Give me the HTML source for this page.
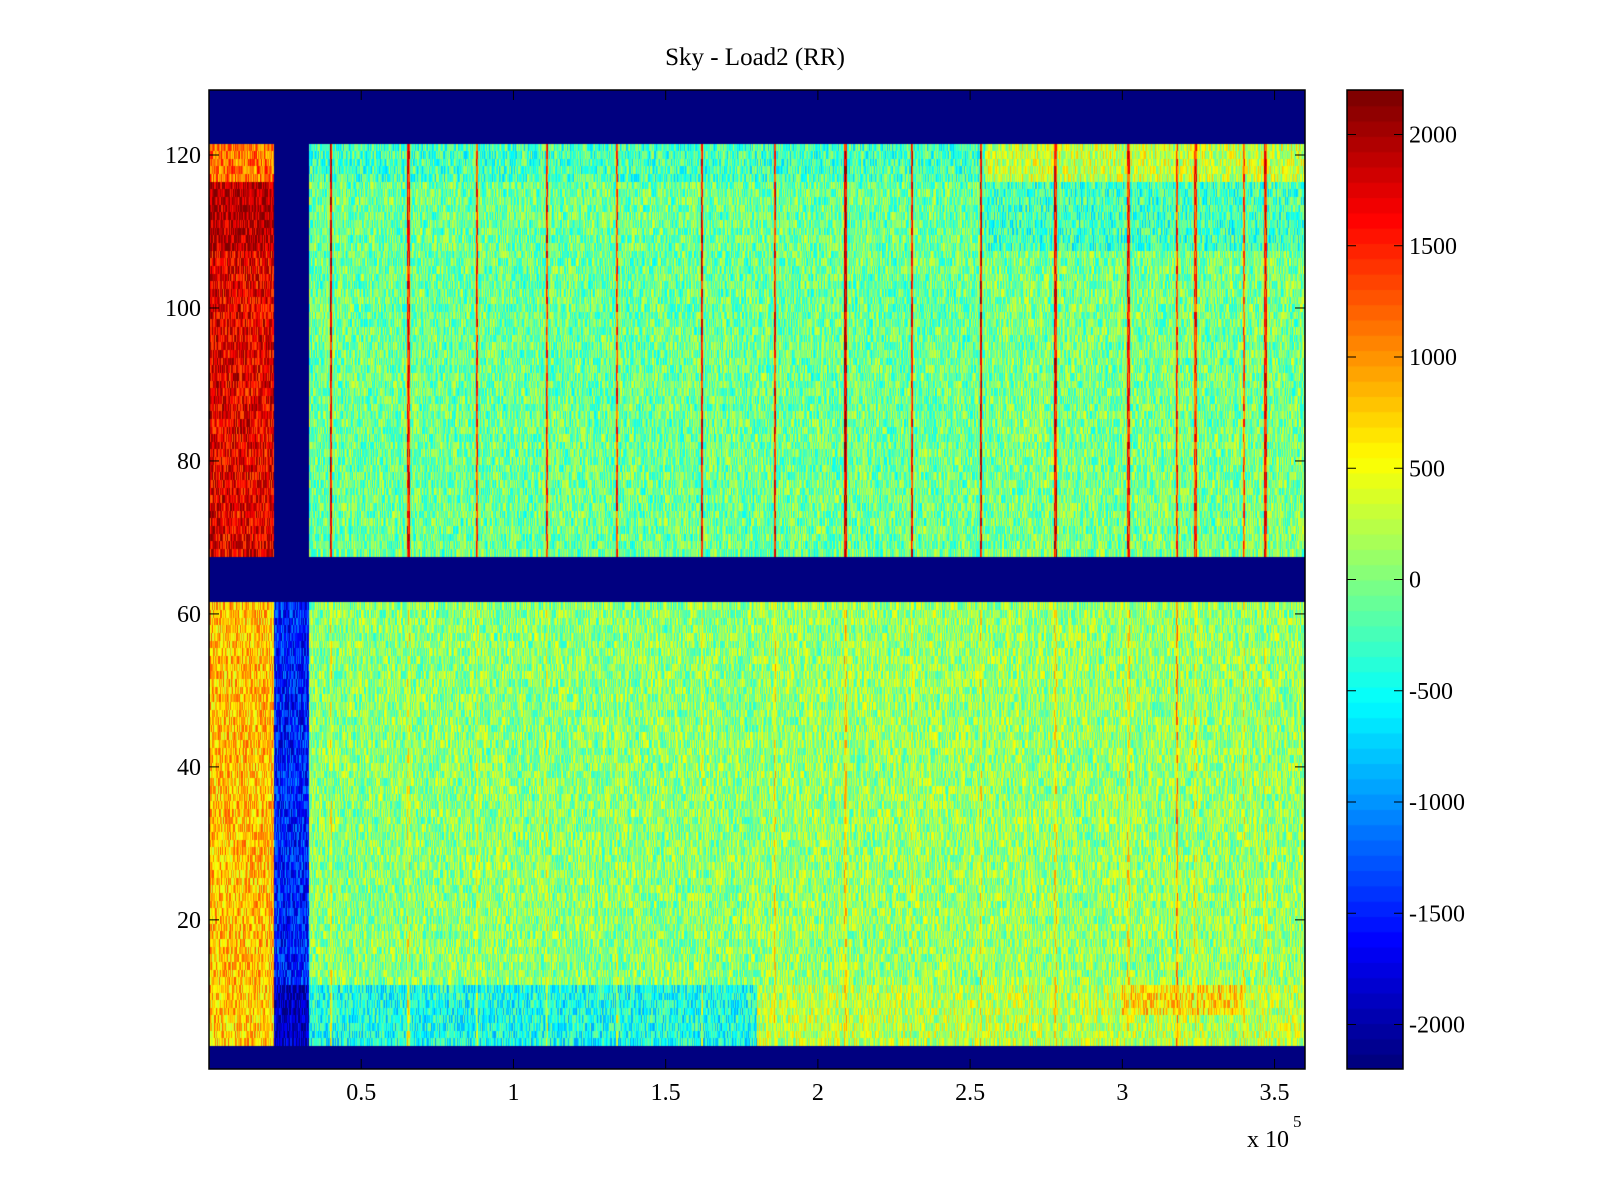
<!DOCTYPE html>
<html><head><meta charset="utf-8"><style>
body{margin:0;background:#fff;width:1600px;height:1200px;position:relative;font-family:"Liberation Serif",serif;overflow:hidden}
.t{position:absolute;font-size:25px;color:#000;white-space:nowrap}
</style></head><body>
<div class="t" style="left:0;width:1510px;text-align:center;top:44px">Sky - Load2 (RR)</div>
<canvas id="hm" width="1096" height="979" style="position:absolute;left:209px;top:90px"></canvas>
<canvas id="cb" width="56" height="979" style="position:absolute;left:1347px;top:90px"></canvas>
<svg id="ax" width="1600" height="1200" style="position:absolute;left:0;top:0"></svg>
<script>
// Row bands (row index 1..128)
const bandStart=[1,4,12,62,68,108,117,122];
const bandEnd=[3,11,61,67,107,116,121,128];
const bandLeft=[-2200,750,800,-2200,1700,1950,1150,-2200];
const bandGap=[-2200,-1950,-1500,-2200,-2200,-2200,-2200,-2200];
const bandMid=[-2200,-450,50,-2200,-80,-80,-250,-2200];
const bandRight=[-2200,250,100,-2200,-30,-280,300,-2200];
const bandSplit=[3.6,1.8,1.8,3.6,2.55,2.55,2.55,3.6];
const hotStart=3.0,hotEnd=3.4,hotVal=650; // bottom-right warm patch rows 8-11
const spikeX=[0.40,0.655,0.88,1.11,1.34,1.62,1.86,2.09,2.31,2.535,2.78,3.02,3.18,3.24,3.40,3.47];
const spikeUpper=[1700,1500,1400,1400,1300,1600,1500,1800,1500,1700,1600,1500,1300,1400,1200,1500];
const spikeLower=[400,400,300,300,250,250,500,600,300,500,500,500,900,400,400,300];
const yTicks=[20,40,60,80,100,120];
const xTicks=[0.5,1,1.5,2,2.5,3,3.5];
const cTicks=[2000,1500,1000,500,0,-500,-1000,-1500,-2000];
const X0=209,X1=1305,Y0=90,Y1=1069,xmin=0,xmax=3.6,ymin=0.5,ymax=128.5,cmin=-2200,cmax=2200;
const CX0=1347,CX1=1403;
const xs=v=>X0+(v-xmin)/(xmax-xmin)*(X1-X0);
const ys=v=>Y1-(v-ymin)/(ymax-ymin)*(Y1-Y0);
function jet(t){t=Math.max(0,Math.min(1,t));t=Math.min(63,Math.floor(t*64))/63;
 const f=x=>Math.max(0,Math.min(1,x));
 return [f(1.5-Math.abs(4*t-3)),f(1.5-Math.abs(4*t-2)),f(1.5-Math.abs(4*t-1))].map(v=>Math.round(v*255));}
function hash(a,b){let h=(a*374761393+b*668265263)|0;h=(h^(h>>>13))*1274126177|0;return ((h^(h>>>16))>>>0)/4294967295;}
const W=X1-X0,H=Y1-Y0;
const hm=document.getElementById('hm').getContext('2d');
const img=hm.createImageData(W,H);
for(let r=1;r<=128;r++){
 let b=bandStart.findIndex((s,i)=>r>=s&&r<=bandEnd[i]);
 const yTop=Math.round(ys(r+0.5)-Y0),yBot=Math.round(ys(r-0.5)-Y0);
 const upper=r>=62;
 for(let px=0;px<W;px++){
  const x=xmin+(px+0.5)/W*(xmax-xmin);
  let v,blank=bandLeft[b]===-2200&&bandGap[b]===-2200;
  if(x<0.215)v=bandLeft[b];else if(x<0.33)v=bandGap[b];else if(x<bandSplit[b])v=bandMid[b];else v=bandRight[b];
  if(!blank&&x>=0.33){
   if(r>=8&&r<=11&&x>hotStart&&x<hotEnd)v=hotVal;
   for(let k=0;k<spikeX.length;k++)if(Math.abs(x-spikeX[k])<0.004)v=upper?spikeUpper[k]:spikeLower[k];
  }
  if(!blank&&!(x>=0.215&&x<0.33&&upper))v+=(hash(px,r)-0.5)*1000;
  const c=jet((v-cmin)/(cmax-cmin));
  for(let y=yTop;y<yBot;y++){const i=(y*W+px)*4;img.data[i]=c[0];img.data[i+1]=c[1];img.data[i+2]=c[2];img.data[i+3]=255;}
 }
}
hm.putImageData(img,0,0);
const cb=document.getElementById('cb').getContext('2d');
for(let k=0;k<64;k++){const c=jet((k+0.5)/64);cb.fillStyle=`rgb(${c})`;const h=H/64;cb.fillRect(0,H-(k+1)*h,56,h+1);}
const svg=document.getElementById('ax');const NS='http://www.w3.org/2000/svg';
function el(tag,at,txt){const e=document.createElementNS(NS,tag);for(const k in at)e.setAttribute(k,at[k]);if(txt!==undefined)e.textContent=txt;svg.appendChild(e);return e;}
let e=el('rect',{x:X0,y:Y0,width:W,height:H,fill:'none',stroke:'#000','stroke-width':1.5});


e=el('rect',{x:CX0,y:Y0,width:CX1-CX0,height:H,fill:'none',stroke:'#000','stroke-width':1.5});


for(const t of yTicks){const y=ys(t);
 el('line',{x1:X0,x2:X0+10,y1:y,y2:y,stroke:'#000'});el('line',{x1:X1,x2:X1-10,y1:y,y2:y,stroke:'#000'});
 e=el('text',{x:X0-8,y:y+8,'text-anchor':'end','font-size':24,'font-family':'Liberation Serif'},t);
 
 }
for(const t of xTicks){const x=xs(t);
 el('line',{x1:x,x2:x,y1:Y1,y2:Y1-10,stroke:'#000'});el('line',{x1:x,x2:x,y1:Y0,y2:Y0+10,stroke:'#000'});
 e=el('text',{x:x,y:1100,'text-anchor':'middle','font-size':24,'font-family':'Liberation Serif'},t);
 
 }
e=el('text',{x:1247,y:1147,'font-size':24,'font-family':'Liberation Serif'},'x 10');


el('text',{x:1293,y:1127,'font-size':17,'font-family':'Liberation Serif'},'5');
for(const t of cTicks){const y=Y1-(t-cmin)/(cmax-cmin)*H;
 el('line',{x1:CX0,x2:CX0+9,y1:y,y2:y,stroke:'#000'});el('line',{x1:CX1,x2:CX1-9,y1:y,y2:y,stroke:'#000'});
 e=el('text',{x:CX1+6,y:y+8,'font-size':24,'font-family':'Liberation Serif'},t);
 
 }
</script>
</body></html>
